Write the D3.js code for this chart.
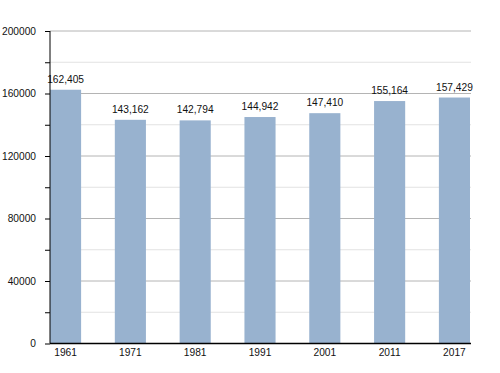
<!DOCTYPE html>
<html>
<head>
<meta charset="utf-8">
<script src="https://cdn.jsdelivr.net/npm/d3@7"></script>
<style>
  body { margin: 0; background: #fff; }
  text { font-family: "Liberation Sans", Arial, sans-serif; fill: #111; }
</style>
</head>
<body>
<script>
var years = ["1961", "1971", "1981", "1991", "2001", "2011", "2017"];
var population = [162405, 143162, 142794, 144942, 147410, 155164, 157429];
var yTicks = [0, 20000, 40000, 60000, 80000, 100000, 120000, 140000, 160000, 180000, 200000];
var yLabels = [0, 40000, 80000, 120000, 160000, 200000];

var WIDTH = 500, HEIGHT = 373;
var plotLeft = 50, plotRight = 471, plotTop = 31, plotBottom = 343.5;
var FONT = "10.2px";

var svg = d3.select("body")
            .append("svg")
            .attr("width", WIDTH)
            .attr("height", HEIGHT);

var x = d3.scaleBand()
          .domain(years)
          .range([plotLeft, 470])
          .paddingInner(0.52)
          .paddingOuter(0);

var y = d3.scaleLinear()
          .domain([0, 200000])
          .range([plotBottom, plotTop]);

// gridlines
svg.append("g")
   .selectAll("line")
   .data(yTicks.filter(function(d){ return d > 0; }))
   .enter().append("line")
   .attr("x1", plotLeft)
   .attr("x2", plotRight)
   .attr("y1", function(d){ return y(d); })
   .attr("y2", function(d){ return y(d); })
   .attr("stroke", function(d){ return d % 40000 === 0 ? "#b4b4b4" : "#e2e2e2"; })
   .attr("stroke-width", 1);

// bars
svg.append("g")
   .selectAll("rect")
   .data(population)
   .enter().append("rect")
   .attr("x", function(d, i){ return x(years[i]); })
   .attr("y", function(d){ return y(d); })
   .attr("width", x.bandwidth())
   .attr("height", function(d){ return plotBottom - y(d); })
   .attr("fill", "#98b2cf");

// value labels
var fmt = d3.format(",");
svg.append("g")
   .selectAll("text")
   .data(population)
   .enter().append("text")
   .attr("x", function(d, i){ return x(years[i]) + x.bandwidth() / 2; })
   .attr("y", function(d){ return y(d) - 7; })
   .attr("text-anchor", "middle")
   .style("font-size", FONT)
   .text(function(d){ return fmt(d); });

// y axis
var yAxis = d3.axisLeft(y)
              .tickValues(yTicks)
              .tickSize(5)
              .tickPadding(9)
              .tickFormat(function(d){ return yLabels.indexOf(d) >= 0 ? d : ""; });
var gy = svg.append("g")
            .attr("transform", "translate(" + plotLeft + ",0)")
            .call(yAxis);
gy.select(".domain").attr("stroke", "#000").attr("d", "M0," + plotTop + "V" + plotBottom);
gy.selectAll(".tick line").attr("stroke", "#000");
gy.selectAll("text").style("font-size", FONT).style("font-family", "Liberation Sans, Arial, sans-serif").attr("fill", "#111");

// x axis
var xAxis = d3.axisBottom(x).tickSize(0).tickPadding(5);
var gx = svg.append("g")
            .attr("transform", "translate(0," + plotBottom + ")")
            .call(xAxis);
gx.select(".domain").attr("stroke", "#000").attr("stroke-width", 1.3).attr("d", "M" + plotLeft + ",0H" + plotRight);
gx.selectAll("text").style("font-size", FONT).style("font-family", "Liberation Sans, Arial, sans-serif").attr("fill", "#111");
</script>
</body>
</html>
